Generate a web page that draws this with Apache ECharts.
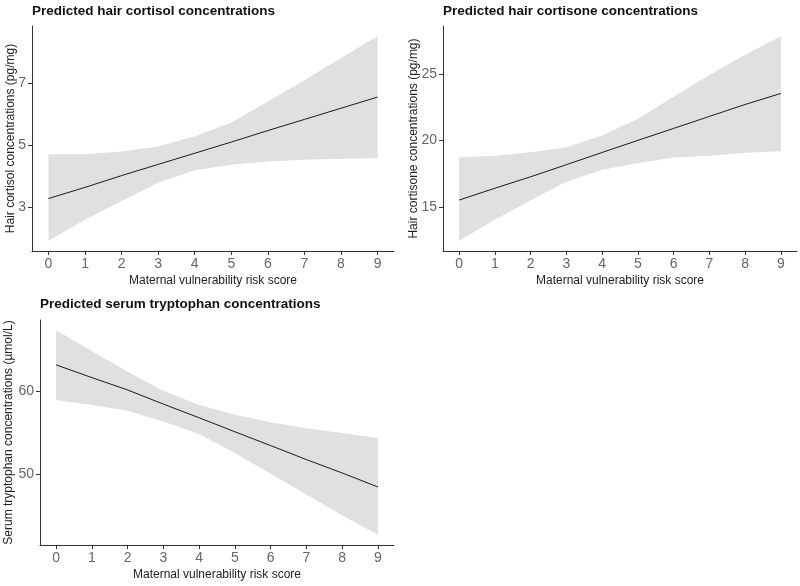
<!DOCTYPE html>
<html>
<head>
<meta charset="utf-8">
<script src="https://cdn.jsdelivr.net/npm/echarts@6/dist/echarts.min.js"></script>
<style>
  html, body { margin: 0; padding: 0; background: #ffffff; }
  #chart { width: 800px; height: 586px; }
</style>
</head>
<body>
<div id="chart"></div>
<script>
// ---- Data ----
const scores = [0, 1, 2, 3, 4, 5, 6, 7, 8, 9];

const titles = [
  'Predicted hair cortisol concentrations',
  'Predicted hair cortisone concentrations',
  'Predicted serum tryptophan concentrations'
];
const yTitles = [
  'Hair cortisol concentrations (pg/mg)',
  'Hair cortisone concentrations (pg/mg)',
  'Serum tryptophan concentrations (\u00b5mol/L)'
];
const xTitle = 'Maternal vulnerability risk score';

// Panel 1: hair cortisol
const cortisolFit   = [3.27, 3.63, 4.01, 4.37, 4.73, 5.09, 5.46, 5.82, 6.18, 6.54];
const cortisolUpper = [4.70, 4.70, 4.79, 4.95, 5.28, 5.72, 6.40, 7.08, 7.80, 8.50];
const cortisolLower = [1.91, 2.59, 3.19, 3.78, 4.18, 4.36, 4.46, 4.52, 4.55, 4.57];

// Panel 2: hair cortisone
const cortisoneFit   = [15.51, 16.40, 17.26, 18.17, 19.09, 20.00, 20.90, 21.80, 22.70, 23.53];
const cortisoneUpper = [18.72, 18.85, 19.10, 19.48, 20.37, 21.63, 23.27, 24.92, 26.44, 27.83];
const cortisoneLower = [12.45, 14.04, 15.49, 16.88, 17.79, 18.27, 18.72, 18.85, 19.06, 19.18];

// Panel 3: serum tryptophan
const tryptophanFit   = [63.23, 61.69, 60.20, 58.50, 56.85, 55.16, 53.50, 51.81, 50.20, 48.51];
const tryptophanUpper = [67.40, 64.90, 62.40, 60.10, 58.40, 57.20, 56.30, 55.60, 55.00, 54.40];
const tryptophanLower = [59.00, 58.40, 57.70, 56.40, 54.90, 52.60, 50.10, 47.60, 45.10, 42.75];

// Tick labels
const xTicks = [0, 1, 2, 3, 4, 5, 6, 7, 8, 9];
const yTicks1 = [3, 5, 7];
const yTicks2 = [15, 20, 25];
const yTicks3 = [50, 60];

// ---- Build chart ----
const panels = [
  { fit: cortisolFit, up: cortisolUpper, lo: cortisolLower, yTicks: yTicks1 },
  { fit: cortisoneFit, up: cortisoneUpper, lo: cortisoneLower, yTicks: yTicks2 },
  { fit: tryptophanFit, up: tryptophanUpper, lo: tryptophanLower, yTicks: yTicks3 }
];

const FONT = '"Liberation Sans", Arial, sans-serif';
const gridPos = [
  { left: 32, top: 26, width: 362, height: 225 },
  { left: 443, top: 26, width: 354, height: 225 },
  { left: 40, top: 320, width: 354, height: 225 }
];
const titlePos = [
  { left: 32, top: 4 },
  { left: 443, top: 4 },
  { left: 40, top: 297 }
];
const yNameGap = [15, 23, 25];

function expand(minV, maxV) {
  const d = (maxV - minV) * 0.05;
  return [minV - d, maxV + d];
}

function renderBand(params, api) {
  if (params.dataIndexInside !== 0) return null;
  const n = params.dataInsideLength;
  const upperPts = [];
  const lowerPts = [];
  for (let k = 0; k < n; k++) {
    const x = api.value(0, k);
    upperPts.push(api.coord([x, api.value(2, k)]));
    lowerPts.push(api.coord([x, api.value(1, k)]));
  }
  const pts = upperPts.concat(lowerPts.reverse());
  return {
    type: 'polygon',
    shape: { points: pts },
    style: { fill: '#e0e0e0', stroke: null },
    silent: true
  };
}

const option = {
  animation: false,
  backgroundColor: '#ffffff',
  title: titles.map((t, i) => ({
    text: t,
    left: titlePos[i].left,
    top: titlePos[i].top,
    padding: 0,
    textStyle: { fontFamily: FONT, fontSize: 13.5, fontWeight: 'bold', color: '#111111' }
  })),
  grid: gridPos.map(g => Object.assign({ containLabel: false }, g)),
  xAxis: [],
  yAxis: [],
  series: []
};

panels.forEach((p, i) => {
  const xr = expand(Math.min(...scores), Math.max(...scores));
  const yr = expand(Math.min(...p.lo), Math.max(...p.up));
  option.xAxis.push({
    type: 'value', gridIndex: i, min: xr[0], max: xr[1],
    name: xTitle, nameLocation: 'middle', nameGap: 24, nameMoveOverlap: false,
    nameTextStyle: { fontFamily: FONT, fontSize: 12, color: '#222222' },
    axisLine: { show: true, onZero: false, lineStyle: { color: '#333333', width: 1 } },
    axisTick: { show: true, length: 4, customValues: xTicks, lineStyle: { color: '#333333' } },
    axisLabel: { customValues: xTicks, margin: 6, fontFamily: FONT, fontSize: 14, color: '#666666' },
    splitLine: { show: false }
  });
  option.yAxis.push({
    type: 'value', gridIndex: i, min: yr[0], max: yr[1],
    name: yTitles[i], nameLocation: 'middle', nameGap: yNameGap[i], nameMoveOverlap: false,
    nameTextStyle: { fontFamily: FONT, fontSize: 12, color: '#222222' },
    axisLine: { show: true, onZero: false, lineStyle: { color: '#333333', width: 1 } },
    axisTick: { show: true, length: 4, customValues: p.yTicks, lineStyle: { color: '#333333' } },
    axisLabel: { customValues: p.yTicks, margin: 6, fontFamily: FONT, fontSize: 14, color: '#666666' },
    splitLine: { show: false }
  });
  option.series.push({
    type: 'custom', xAxisIndex: i, yAxisIndex: i,
    renderItem: renderBand,
    data: scores.map((x, k) => [x, p.lo[k], p.up[k]]),
    encode: { x: 0, y: [1, 2] },
    silent: true, z: 1
  });
  option.series.push({
    type: 'line', xAxisIndex: i, yAxisIndex: i,
    data: scores.map((x, k) => [x, p.fit[k]]),
    symbol: 'none', lineStyle: { color: '#1a1a1a', width: 1 }, silent: true, z: 3
  });
});

const chart = echarts.init(document.getElementById('chart'), null, { renderer: 'canvas' });
chart.setOption(option);
</script>
</body>
</html>
